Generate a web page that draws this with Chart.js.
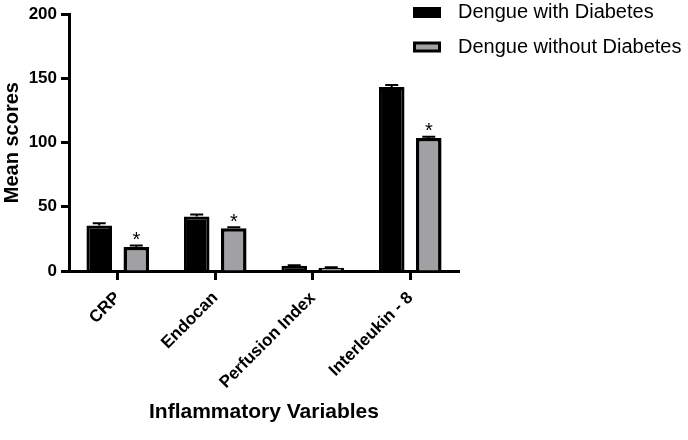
<!DOCTYPE html>
<html>
<head>
<meta charset="utf-8">
<script src="https://cdn.jsdelivr.net/npm/chart.js@4.4.0/dist/chart.umd.min.js"></script>
<style>
  html, body { margin: 0; padding: 0; background: #fff; }
  #wrap { width: 688px; height: 440px; position: relative; }
</style>
</head>
<body>
<div id="wrap"><canvas id="c"></canvas></div>
<script>
// ── Data ───────────────────────────────────────────────────────────────────

const CATEGORIES   = ['CRP', 'Endocan', 'Perfusion Index', 'Interleukin - 8'];
const WITH_DM      = [35.5, 42.4, 4.0, 143.3];
const WITH_DM_ERR  = [1.6, 1.6, 0.4, 1.5];
const NO_DM        = [18.6, 33.2, 2.6, 103.5];
const NO_DM_ERR    = [1.2, 0.8, 0.3, 1.0];
const STARRED      = [true, true, false, true];
const SERIES_NAMES = ['Dengue with Diabetes', 'Dengue without Diabetes'];
const Y_TICKS      = [0, 50, 100, 150, 200];

const FONT = "'Liberation Sans', Arial, sans-serif";
const GRAY = '#a1a1a4';

// ── Plugins ────────────────────────────────────────────────────────────────

const errorBars = {
  id: 'errorBars',
  afterDatasetsDraw(chart) {
    const { ctx, scales: { y } } = chart;
    const errs = [WITH_DM_ERR, NO_DM_ERR];
    ctx.save();
    ctx.strokeStyle = '#000';
    ctx.lineWidth = 2;
    chart.data.datasets.forEach((ds, di) => {
      chart.getDatasetMeta(di).data.forEach((bar, i) => {
        const top = y.getPixelForValue(ds.data[i] + errs[di][i]);
        const half = 6.5;
        ctx.beginPath();
        ctx.moveTo(bar.x, bar.y);
        ctx.lineTo(bar.x, top);
        ctx.moveTo(bar.x - half, top);
        ctx.lineTo(bar.x + half, top);
        ctx.stroke();
        if (di === 1 && STARRED[i]) {
          ctx.fillStyle = '#000';
          ctx.font = `20px ${FONT}`;
          ctx.textAlign = 'center';
          ctx.textBaseline = 'middle';
          ctx.fillText('*', bar.x, top - 5);
        }
      });
    });
    ctx.restore();
  }
};

const floatLegend = {
  id: 'floatLegend',
  afterDraw(chart) {
    const { ctx } = chart;
    const rows = [{ y: 12.5, fill: '#000' }, { y: 47, fill: GRAY }];
    ctx.save();
    ctx.font = `20px ${FONT}`;
    ctx.textBaseline = 'middle';
    ctx.textAlign = 'left';
    rows.forEach((r, i) => {
      ctx.fillStyle = '#000';
      ctx.fillRect(413, r.y - 5.5, 28, 11);
      if (i === 1) {
        ctx.fillStyle = r.fill;
        ctx.fillRect(416, r.y - 2.5, 22, 5);
      }
      ctx.fillStyle = '#000';
      ctx.fillText(SERIES_NAMES[i], 458, r.y);
    });
    ctx.restore();
  }
};

// ── Chart ──────────────────────────────────────────────────────────────────

new Chart(document.getElementById('c'), {
  type: 'bar',
  data: {
    labels: CATEGORIES,
    datasets: [
      { label: SERIES_NAMES[0], data: WITH_DM, backgroundColor: '#000', borderColor: '#000', borderWidth: 3 },
      { label: SERIES_NAMES[1], data: NO_DM,   backgroundColor: GRAY,   borderColor: '#000', borderWidth: 3.5 }
    ]
  },
  options: {
    responsive: true,
    maintainAspectRatio: false,
    animation: false,
    categoryPercentage: 0.76,
    barPercentage: 0.69,
    layout: { padding: { top: 12, right: 229, bottom: 0, left: 0 } },
    plugins: {
      legend: { display: false },
      tooltip: { enabled: false }
    },
    scales: {
      x: {
        afterFit: s => { s.height = 169; },
        grid:   { offset: false, drawOnChartArea: false, tickLength: 9, tickWidth: 3, tickColor: '#000' },
        border: { color: '#000', width: 3 },
        ticks:  { color: '#000', minRotation: 45, maxRotation: 45, padding: 8,
                  font: { family: FONT, size: 17, weight: 'bold' } },
        title:  { display: true, text: 'Inflammatory Variables', color: '#000', padding: { top: 4, bottom: 15 },
                  font: { family: FONT, size: 21, weight: 'bold' } }
      },
      y: {
        min: 0, max: 200,
        afterFit: s => { s.width = 69; },
        afterBuildTicks: s => { s.ticks = Y_TICKS.map(v => ({ value: v })); },
        grid:   { drawOnChartArea: false, tickLength: 8, tickWidth: 3, tickColor: '#000' },
        border: { color: '#000', width: 3 },
        ticks:  { color: '#000', padding: 4, font: { family: FONT, size: 17, weight: 'bold' } },
        title:  { display: true, text: 'Mean scores', color: '#000', padding: { top: 0, bottom: 6 },
                  font: { family: FONT, size: 20, weight: 'bold' } }
      }
    }
  },
  plugins: [errorBars, floatLegend]
});
</script>
</body>
</html>
